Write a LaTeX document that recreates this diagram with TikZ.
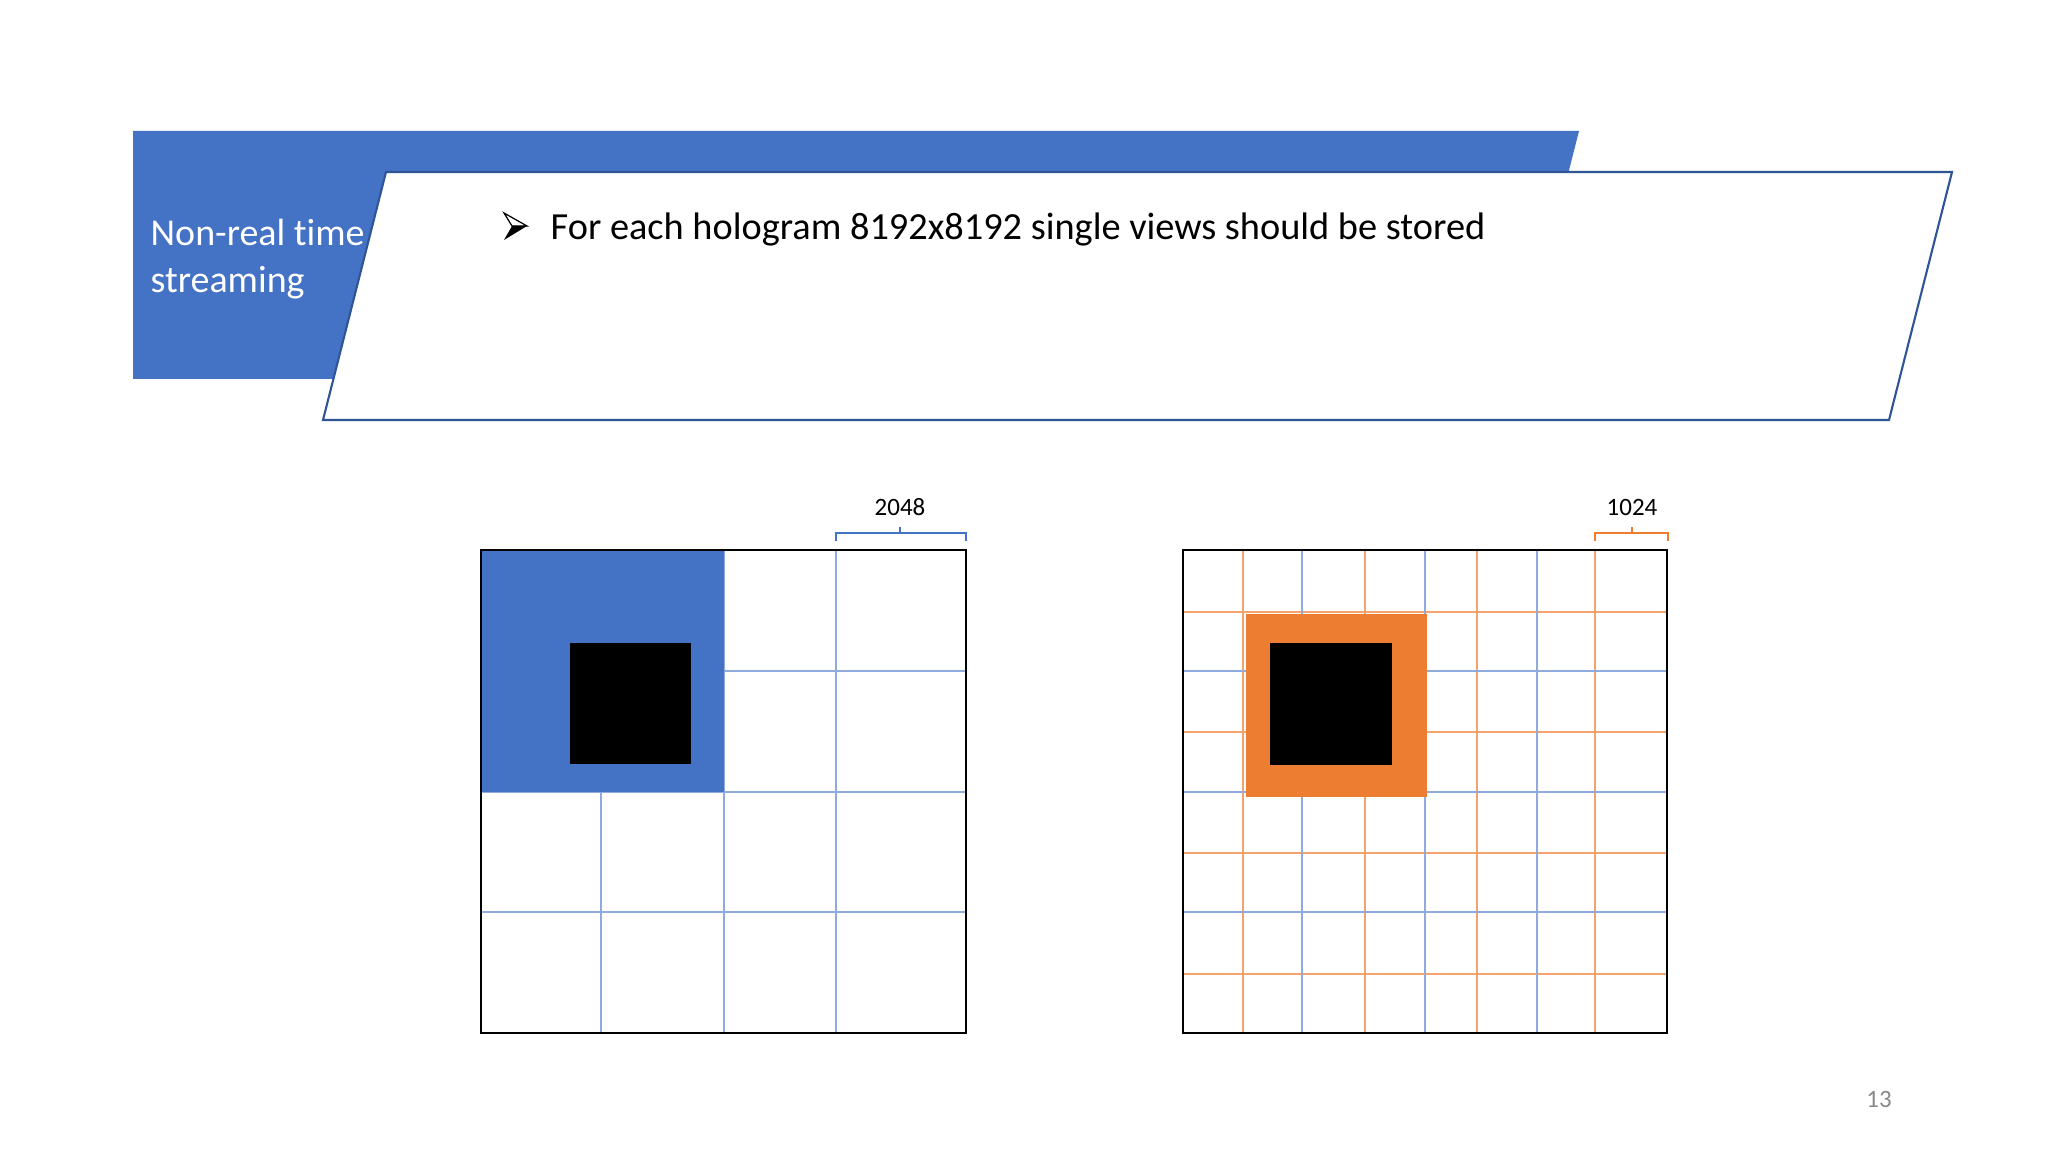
\documentclass[tikz,border=0pt]{standalone}
\usepackage{fontspec}
\setmainfont{Carlito}[Ligatures=NoCommon]
\definecolor{accblue}{HTML}{4472C4}
\definecolor{darkblue}{HTML}{2F5597}
\definecolor{gridblue}{HTML}{8FAADC}
\definecolor{accorange}{HTML}{ED7D31}
\definecolor{gridorange}{HTML}{F4A36C}
\definecolor{pagegray}{HTML}{898989}
\begin{document}
\begin{tikzpicture}[x=0.01cm,y=-0.01cm,
  bgrid/.style={draw=gridblue,line width=0.45pt},
  ogrid/.style={draw=gridorange,line width=0.45pt},
  border/.style={draw=black,line width=0.75pt},
  bracestyle/.style={line width=0.45pt},
  numlabel/.style={anchor=base,font=\fontsize{7.1pt}{8.5pt}\selectfont,inner sep=0pt}]
\useasboundingbox[fill=white] (0,0) rectangle (2048,1152);

% header banner
\fill[accblue] (133,131) -- (1579,131) -- (1516,379) -- (133,379) -- cycle;
\filldraw[fill=white,draw=darkblue,line width=0.6pt] (386,172) -- (1952,172) -- (1889,420) -- (323,420) -- cycle;
\node[anchor=base west,inner sep=0pt,text=white,font=\fontsize{10.8pt}{13.4pt}\selectfont,align=left] (title1) at (150,246) {Non-real time};
\node[anchor=base west,inner sep=0pt,text=white,font=\fontsize{10.8pt}{13.4pt}\selectfont] (title2) at (150,293) {streaming};

% bullet
\fill[black] (527,226) -- (504,240) -- (512,226) -- cycle;
\draw[black,line width=0.35pt,line join=miter] (527,226) -- (504,213) -- (512,226) -- cycle;
\node[anchor=base west,inner sep=0pt,font=\fontsize{10.9pt}{12pt}\selectfont] (bullet) at (550,240) {For each hologram 8192x8192 single views should be stored};

% left grid
\foreach \x in {601,724,836} \draw[bgrid] (\x,550) -- (\x,1033);
\foreach \y in {671,792,912} \draw[bgrid] (481,\y) -- (966,\y);
\fill[accblue] (481,551) rectangle (724,792);
\fill[black] (570,643) rectangle (691,764);
\draw[border] (481,550) rectangle (966,1033);
\draw[accblue,bracestyle] (836,541) -- (836,533) -- (966,533) -- (966,541);
\draw[accblue,bracestyle] (900,533) -- (900,527);
\node[numlabel] (lab2048) at (900,515) {2048};

% right grid
\foreach \x in {1243,1365,1477,1595} \draw[ogrid] (\x,550) -- (\x,1033);
\foreach \y in {612,732,853,974} \draw[ogrid] (1183,\y) -- (1667,\y);
\foreach \x in {1302,1425,1537} \draw[bgrid] (\x,550) -- (\x,1033);
\foreach \y in {671,792,912} \draw[bgrid] (1183,\y) -- (1667,\y);
\fill[accorange] (1246,614) rectangle (1427,797);
\fill[black] (1270,643) rectangle (1392,765);
\draw[border] (1183,550) rectangle (1667,1033);
\draw[accorange,bracestyle] (1595,541) -- (1595,533) -- (1668,533) -- (1668,541);
\draw[accorange,bracestyle] (1632,533) -- (1632,527);
\node[numlabel] (lab1024) at (1632,515) {1024};

% page number
\node[numlabel,text=pagegray] (pagenum) at (1879,1107) {13};
\end{tikzpicture}
\end{document}
